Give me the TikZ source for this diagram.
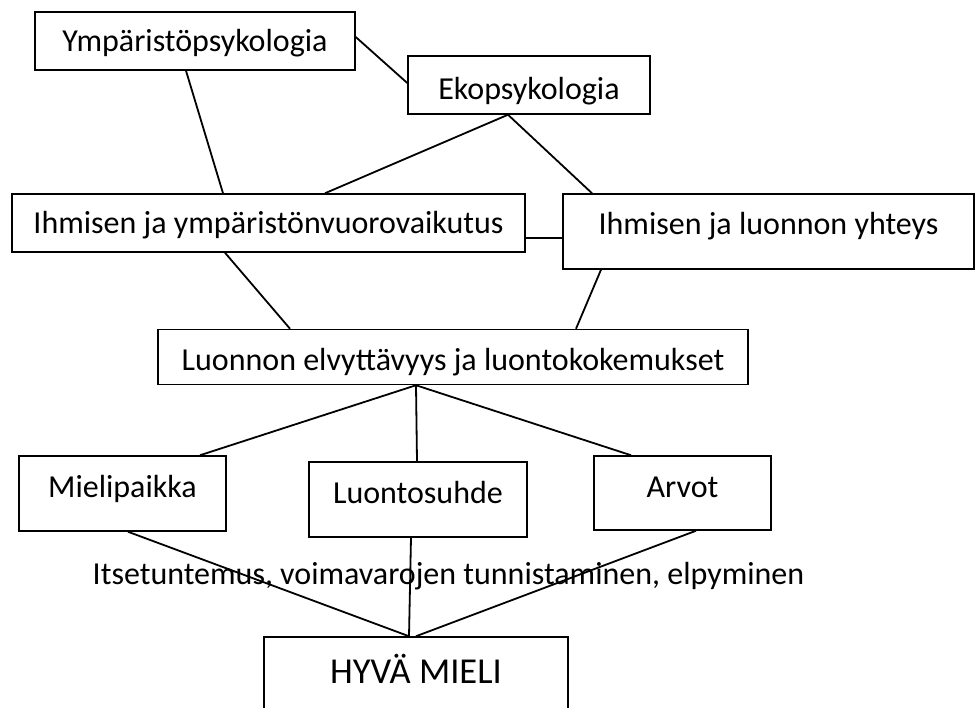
\documentclass[tikz,border=0pt]{standalone}
\usepackage{fontspec}
\setmainfont{Carlito}
\usetikzlibrary{positioning}

\begin{document}
\begin{tikzpicture}[x=1pt, y=-1pt, line width=1.8pt,
      box/.style={draw, line width=1.5pt, inner sep=0pt, text height=20.5pt, text depth=0pt,
                  font=\fontsize{32}{36}\selectfont}]
      \clip (0, 0) rectangle (975, 708);
      \node[box, minimum width=320, minimum height=58] (ymp) at (195, 41) {Ympäristöpsykologia};
      \node[box, minimum width=242, minimum height=58, text height=28.5pt] (eko) at (529, 85) {Ekopsykologia};
      \node[box, minimum width=513, minimum height=58] (vuoro) at (268.5, 223) {Ihmisen ja ympäristönvuorovaikutus};
      \node[box, minimum width=411, minimum height=75, text depth=15pt] (yhteys) at (768.5, 231.5) {Ihmisen ja luonnon yhteys};
      \node[box, minimum width=590, minimum height=55, text height=27.5pt] (elvy) at (453, 357) {Luonnon elvyttävyys ja luontokokemukset};
      \node[box, minimum width=207, minimum height=75, text depth=13pt] (mieli) at (122.5, 493.5) {Mielipaikka};
      \node[box, minimum width=218, minimum height=75, text depth=13pt] (suhde) at (418, 499.5) {Luontosuhde};
      \node[box, minimum width=177, minimum height=74, text depth=12pt] (arvot) at (682.5, 493) {Arvot};
      \node[box, minimum width=304, minimum height=100, text height=23pt, text depth=30pt,
            font=\fontsize{36.5}{40}\selectfont] (hyva) at (416, 687) {HYVÄ MIELI};
      \node[box, draw=none] (itse) at (448.5, 574.5) {Itsetuntemus, voimavarojen tunnistaminen, elpyminen};
      \coordinate (kytk) at ([yshift=-15pt]vuoro.east);
      \draw ([yshift=4pt]ymp.east) -- ([yshift=2pt]eko.west)
            ([xshift=-9pt]ymp.south) -- ([xshift=-45.5pt]vuoro.north)
            ([xshift=-21pt]eko.south) -- ([xshift=56.5pt]vuoro.north)
            ([xshift=-21pt]eko.south) -- ([xshift=-176.5pt]yhteys.north)
            (kytk) -- (kytk -| yhteys.west)
            ([xshift=-43.5pt]vuoro.south) -- ([xshift=-163pt]elvy.north)
            ([xshift=-167.5pt]yhteys.south) -- ([xshift=123pt]elvy.north)
            ([xshift=-37pt]elvy.south) -- ([xshift=77.5pt]mieli.north)
            ([xshift=-37pt]elvy.south) -- ([xshift=-1pt]suhde.north)
            ([xshift=-37pt]elvy.south) -- ([xshift=-51.5pt]arvot.north)
            ([xshift=5.5pt]mieli.south) -- ([xshift=-7pt]hyva.north)
            ([xshift=-7pt]suhde.south) -- ([xshift=-7pt]hyva.north)
            ([xshift=13.5pt]arvot.south) -- (hyva.north);
\end{tikzpicture}
\end{document}
